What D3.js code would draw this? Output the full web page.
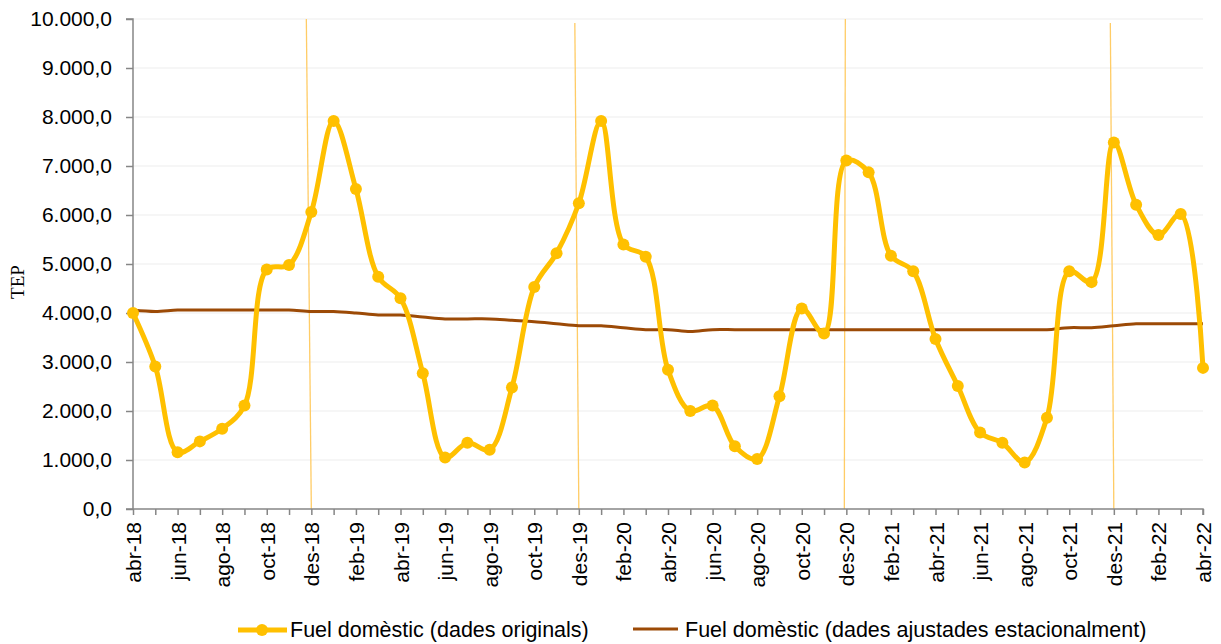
<!DOCTYPE html>
<html>
<head>
<meta charset="utf-8">
<script src="https://cdn.jsdelivr.net/npm/d3@7"></script>
<style>
  html, body { margin: 0; padding: 0; background: #fff; }
  svg { display: block; }
  text { font-family: "Liberation Sans", Arial, sans-serif; fill: #000; }
</style>
</head>
<body>
<svg id="chart" width="1221" height="644"></svg>
<script>
const months = ["abr-18","mai-18","jun-18","jul-18","ago-18","set-18","oct-18","nov-18","des-18",
  "gen-19","feb-19","mar-19","abr-19","mai-19","jun-19","jul-19","ago-19","set-19","oct-19","nov-19","des-19",
  "gen-20","feb-20","mar-20","abr-20","mai-20","jun-20","jul-20","ago-20","set-20","oct-20","nov-20","des-20",
  "gen-21","feb-21","mar-21","abr-21","mai-21","jun-21","jul-21","ago-21","set-21","oct-21","nov-21","des-21",
  "gen-22","feb-22","mar-22","abr-22"];

const original = [4000, 2910, 1160, 1380, 1640, 2110, 4890, 4980, 6060,
  7920, 6530, 4740, 4300, 2770, 1050, 1350, 1210, 2480, 4530, 5220, 6240,
  7920, 5400, 5150, 2840, 2000, 2110, 1280, 1020, 2300, 4090, 3580, 7110,
  6870, 5170, 4850, 3470, 2510, 1560, 1350, 950, 1860, 4850, 4630, 7480,
  6210, 5590, 6020, 2880];

const adjusted = [4060, 4030, 4060, 4060, 4060, 4060, 4060, 4060, 4030,
  4030, 4000, 3960, 3960, 3920, 3880, 3880, 3880, 3850, 3820, 3780, 3740,
  3740, 3700, 3660, 3660, 3620, 3660, 3660, 3660, 3660, 3660, 3660, 3660,
  3660, 3660, 3660, 3660, 3660, 3660, 3660, 3660, 3660, 3700, 3700, 3740,
  3780, 3780, 3780, 3780];

const yTicks = [0, 1000, 2000, 3000, 4000, 5000, 6000, 7000, 8000, 9000, 10000];
const markerMonths = ["des-18", "des-19", "des-20", "des-21"];
const seriesNames = ["Fuel domèstic (dades originals)", "Fuel domèstic (dades ajustades estacionalment)"];
const yLabel = "TEP";

(function () {
const svg = d3.select("#chart");
const pLeft = 133, pRight = 1203, pTop = 19, pBottom = 509;
const FS = "21px";

const x = d3.scalePoint().domain(months).range([pLeft, pRight]).padding(0);
const y = d3.scaleLinear().domain([0, 10000]).range([pBottom, pTop]);

const fmt = v => {
  const s = d3.format(",.1f")(v);
  return s.replace(/,/g, "#").replace(/\./g, ",").replace(/#/g, ".");
};

// gridlines
svg.append("g").selectAll("line").data(yTicks.filter(d => d > 0)).join("line")
  .attr("x1", pLeft).attr("x2", pRight)
  .attr("y1", d => y(d)).attr("y2", d => y(d))
  .attr("stroke", "#EDEDED").attr("stroke-width", 1.2);

// vertical markers (December)
const lean = [-5, -4, -1, -3.5];
const topOff = [0, 4, 0, 4];
svg.append("g").selectAll("line").data(markerMonths).join("line")
  .attr("x1", (d, i) => x(d) + lean[i]).attr("y1", (d, i) => pTop + topOff[i])
  .attr("x2", (d, i) => x(d) + (i === 2 ? -2 : 0)).attr("y2", pBottom)
  .attr("stroke", "#FFCC66").attr("stroke-width", 1.3);

// y axis
const yAxis = d3.axisLeft(y).tickValues(yTicks).tickSize(7).tickPadding(14).tickFormat(fmt);
const gy = svg.append("g").attr("transform", `translate(${pLeft},0)`).call(yAxis);
gy.select(".domain").attr("stroke", "#868686").attr("stroke-width", 1.5).attr("d", `M-7,${pTop}H0V${pBottom}H-7`);
gy.selectAll(".tick line").attr("stroke", "#868686").attr("stroke-width", 1.5);
gy.selectAll(".tick text").style("font-size", FS).attr("fill", "#000")
  .style("font-family", "'Liberation Sans', Arial, sans-serif");

// x axis
const xAxis = d3.axisBottom(x).tickSize(6).tickFormat((d, i) => i % 2 === 0 ? d : "");
const gx = svg.append("g").attr("transform", `translate(0,${pBottom})`).call(xAxis);
gx.select(".domain").attr("stroke", "#868686").attr("stroke-width", 1.5).attr("d", `M${pLeft},0H${pRight}V6`);
gx.selectAll(".tick line").attr("stroke", "#868686").attr("stroke-width", 1.5);
gx.selectAll(".tick text")
  .style("font-size", FS).attr("fill", "#000")
  .style("font-family", "'Liberation Sans', Arial, sans-serif")
  .attr("text-anchor", "end")
  .attr("transform", "rotate(-90)")
  .attr("x", -13).attr("y", 0).attr("dy", "0.36em");

// y label
svg.append("text")
  .attr("transform", `translate(24,282) rotate(-90)`)
  .attr("text-anchor", "middle")
  .style("font-family", "'Liberation Serif', 'Times New Roman', serif")
  .style("font-size", "19px")
  .text(yLabel);

const curve = d3.curveCatmullRom.alpha(0.5);

// adjusted line
const lineAdj = d3.line().x((d, i) => x(months[i])).y(d => y(d)).curve(curve);
svg.append("path").datum(adjusted).attr("d", lineAdj)
  .attr("fill", "none").attr("stroke", "#9C4A06").attr("stroke-width", 3);

// original line
const lineOrig = d3.line().x((d, i) => x(months[i])).y(d => y(d)).curve(curve);
svg.append("path").datum(original).attr("d", lineOrig)
  .attr("fill", "none").attr("stroke", "#FFC000").attr("stroke-width", 5).attr("stroke-linejoin", "round");
svg.append("g").selectAll("circle").data(original).join("circle")
  .attr("cx", (d, i) => x(months[i])).attr("cy", d => y(d)).attr("r", 6)
  .attr("fill", "#FFC000");

// legend
const lg = svg.append("g");
lg.append("line").attr("x1", 238).attr("x2", 287).attr("y1", 630).attr("y2", 630)
  .attr("stroke", "#FFC000").attr("stroke-width", 5);
lg.append("circle").attr("cx", 262).attr("cy", 630).attr("r", 6).attr("fill", "#FFC000");
lg.append("text").attr("x", 290).attr("y", 637).style("font-size", "21.5px").text(seriesNames[0]);
lg.append("line").attr("x1", 633).attr("x2", 678).attr("y1", 629).attr("y2", 629)
  .attr("stroke", "#9C4A06").attr("stroke-width", 3);
lg.append("text").attr("x", 685).attr("y", 637).style("font-size", "21.5px").text(seriesNames[1]);
})();
</script>
</body>
</html>
